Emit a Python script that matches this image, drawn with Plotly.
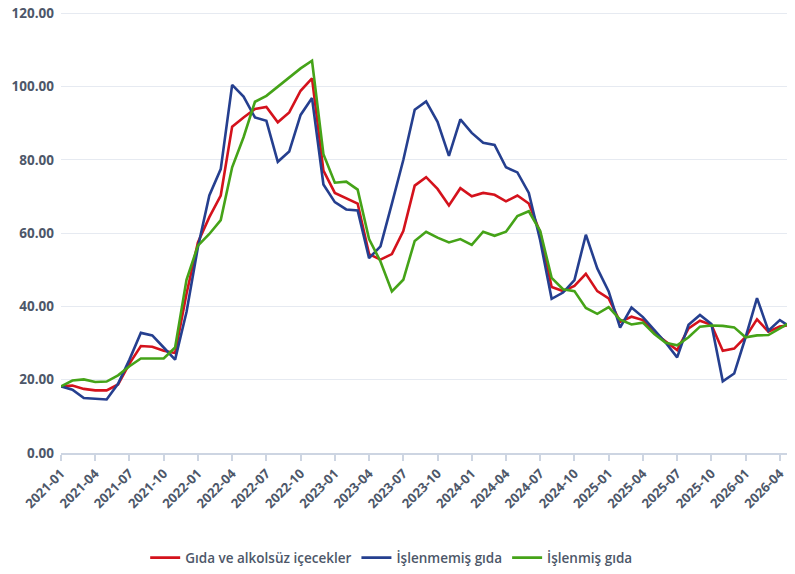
import plotly.graph_objects as go

months = [f"{y}-{m:02d}" for y in range(2021, 2027) for m in range(1, 13)][:65]

gida_alkolsuz = [18.2, 18.4, 17.5, 17.1, 17.1, 18.7, 24.4, 29.2, 29.0, 27.9, 27.3, 43.5,
                 57.5, 64.4, 70.3, 89.1, 91.6, 93.9, 94.5, 90.3, 93.0, 98.9, 102.3, 77.1,
                 71.0, 69.6, 68.1, 54.3, 52.8, 54.3, 60.6, 73.0, 75.3, 72.1, 67.6, 72.3,
                 70.1, 71.0, 70.5, 68.7, 70.3, 68.1, 60.2, 45.3, 44.2, 45.6, 48.9, 44.2,
                 42.2, 35.8, 37.2, 36.3, 32.8, 30.4, 28.1, 34.0, 36.1, 35.0, 27.9, 28.5,
                 31.7, 36.5, 33.1, 34.5, 35.0]

islenmemis = [18.2, 17.3, 15.0, 14.8, 14.6, 18.9, 25.5, 32.8, 32.1, 28.8, 25.5, 38.5,
              56.2, 70.3, 77.5, 100.5, 97.3, 91.6, 90.7, 79.5, 82.3, 92.3, 96.9, 73.3,
              68.5, 66.5, 66.2, 53.2, 56.4, 68.1, 80.0, 93.7, 96.0, 90.4, 81.1, 91.1,
              87.4, 84.7, 84.1, 78.0, 76.6, 71.0, 58.0, 42.1, 43.8, 47.2, 59.6, 50.4,
              44.1, 34.2, 39.7, 37.1, 33.6, 30.1, 26.1, 35.0, 37.7, 35.2, 19.6, 21.7,
              31.6, 42.3, 33.4, 36.3, 34.2]

islenmis = [18.2, 19.8, 20.1, 19.4, 19.5, 21.2, 23.7, 25.8, 25.8, 25.8, 28.8, 47.3,
            56.6, 59.8, 63.6, 78.0, 86.2, 95.9, 97.5, 100.0, 102.5, 105.0, 107.1, 81.6,
            73.8, 74.1, 71.9, 58.4, 52.3, 44.1, 47.3, 57.9, 60.4, 58.8, 57.5, 58.4,
            56.8, 60.4, 59.3, 60.4, 64.7, 66.0, 60.6, 47.8, 44.7, 44.2, 39.6, 38.0,
            39.8, 36.4, 35.1, 35.6, 32.5, 30.1, 29.4, 31.6, 34.5, 34.8, 34.7, 34.3,
            31.6, 32.1, 32.2, 34.0, 35.8]

series = [
    ("Gıda ve alkolsüz içecekler", gida_alkolsuz, "#d4121c"),
    ("İşlenmemiş gıda", islenmemis, "#253f8f"),
    ("İşlenmiş gıda", islenmis, "#45a318"),
]

tick_labels = months[::3]
y_ticks = [0, 20, 40, 60, 80, 100, 120]
text_color = "#4d5769"
font_family = "Open Sans, Noto Sans, sans-serif"

fig = go.Figure()
for name, vals, col in series:
    fig.add_trace(go.Scatter(x=months, y=vals, name=name, mode="lines",
                             line=dict(color=col, width=2.6)))

# page body has an 8px default margin; compensate in figure margins
fig.update_layout(
    width=795, height=574,
    margin=dict(l=53, r=8, t=4, b=129, autoexpand=False),
    paper_bgcolor="white", plot_bgcolor="white",
    font=dict(family=font_family, color=text_color),
    showlegend=True,
    legend=dict(orientation="h", xref="container", yref="container",
                x=0.482, xanchor="center", y=0.042, yanchor="middle",
                font=dict(size=13.5, color=text_color, weight=600),
                itemwidth=30, tracegroupgap=0),
)
fig.update_xaxes(
    type="category", range=[0, 64.33], automargin=False,
    tickmode="array", tickvals=tick_labels, ticktext=tick_labels,
    tickangle=-45, tickfont=dict(size=13, color=text_color, weight=700),
    ticklabeloverflow="allow",
    showgrid=False, showline=True, linecolor="#cdd5e2", linewidth=1.5,
    ticks="outside", ticklen=6, tickcolor="#cdd5e2", tickwidth=1.5,
)
fig.update_yaxes(
    range=[0, 120.4], tickvals=y_ticks, tickformat=".2f",
    automargin=False, ticklabeloverflow="allow",
    tickfont=dict(size=13.5, color=text_color, weight=700),
    showgrid=True, gridcolor="#e6eaf1", gridwidth=1.2,
    zeroline=False, showline=False, ticklabelstandoff=6,
)

fig.write_html("out.html")
